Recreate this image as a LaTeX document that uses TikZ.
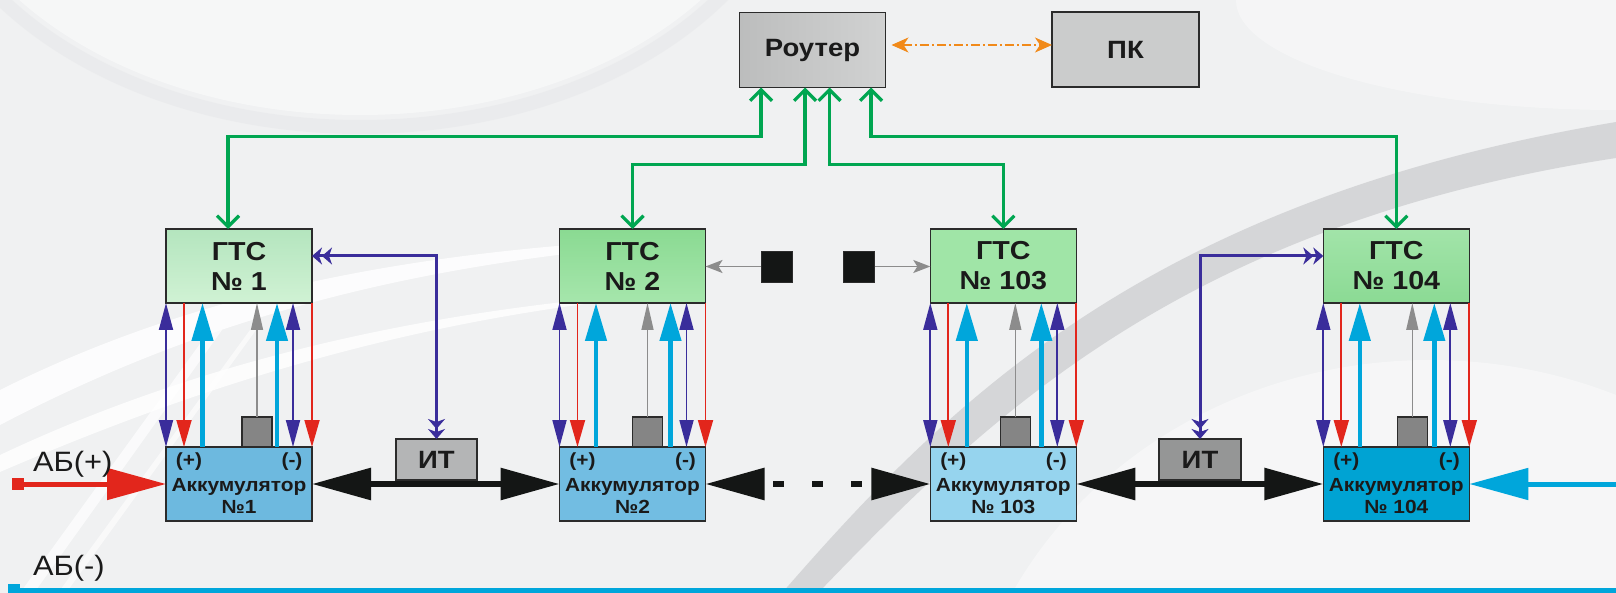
\documentclass[tikz,border=0pt]{standalone}
\usepackage{fontspec}
\setmainfont{Liberation Sans}
\newfontfamily\labelsans[FakeStretch=1.1]{Liberation Sans}
\usetikzlibrary{arrows.meta,calc}

\definecolor{bg}{HTML}{F0F1F2}
\definecolor{swoosh}{HTML}{D5D6D8}
\definecolor{arcgray}{HTML}{E6E7E9}
\definecolor{boxline}{HTML}{2B2B2B}
\definecolor{txt}{HTML}{1A1A1A}
\definecolor{routerL}{HTML}{BCBDBD}
\definecolor{routerR}{HTML}{D1D2D2}
\definecolor{pcfill}{HTML}{CBCCCC}
\definecolor{gA}{HTML}{B4E5BE}
\definecolor{gAl}{HTML}{D0F2D4}
\definecolor{gB}{HTML}{8ADA92}
\definecolor{gBl}{HTML}{A6E6AC}
\definecolor{gC}{HTML}{A0E5A7}
\definecolor{gD}{HTML}{8BDA94}
\definecolor{gDl}{HTML}{A2E4A9}
\definecolor{bA}{HTML}{6DB9DF}
\definecolor{bB}{HTML}{72BDE2}
\definecolor{bC}{HTML}{96D4EE}
\definecolor{bD}{HTML}{00A3D3}
\definecolor{itA}{HTML}{B4B5B6}
\definecolor{itB}{HTML}{959696}
\definecolor{plug}{HTML}{858585}
\definecolor{pur}{HTML}{3A2D9B}
\definecolor{wred}{HTML}{E2261C}
\definecolor{wcyan}{HTML}{00A6DB}
\definecolor{wgray}{HTML}{8C8C8C}
\definecolor{wgreen}{HTML}{00A651}
\definecolor{worange}{HTML}{F18A1A}
\definecolor{wblack}{HTML}{141615}

\tikzset{
  frame/.style={draw=boxline, line width=1.4pt, inner sep=0pt, outer sep=0pt},
  gtsbox/.style={frame, minimum width=146pt, minimum height=74pt, align=center,
    font=\labelsans\fontsize{26}{30}\selectfont\bfseries, text=txt},
  battbox/.style={frame, minimum width=146pt, minimum height=74pt},
  batttext/.style={align=center, font=\labelsans\fontsize{19}{22}\selectfont\bfseries, inner sep=0pt, text=txt},
  polarity/.style={font=\labelsans\fontsize{19}{22}\selectfont\bfseries, inner sep=0pt, text=txt},
  plugbox/.style={frame, fill=plug, minimum size=30pt},
  unitbox/.style={frame, font=\labelsans\fontsize{25}{30}\selectfont\bfseries, text=txt},
  termlabel/.style={anchor=base west, inner sep=0pt, font=\labelsans\fontsize{28}{32}\selectfont, text=txt},
  tap/.style={inner sep=0pt, outer sep=0pt, minimum size=12pt},
  sqmark/.style={fill=wblack, draw=boxline, line width=0.6pt, minimum size=31pt, inner sep=0pt, outer sep=0pt},
  datawire/.style={draw=pur, line width=1.8pt,
    arrows={Triangle[length=27pt,width=14pt]-Triangle[length=27pt,width=14pt]}},
  feedwire/.style={draw=wred, line width=1.8pt, arrows={-Triangle[length=27pt,width=15pt]}},
  sensewire/.style={draw=wcyan, line width=4.5pt, arrows={-Triangle[length=38pt,width=21pt]}},
  tempwire/.style={draw=wgray, line width=1.5pt, arrows={-Triangle[length=27pt,width=12pt]}},
  netlink/.style={draw=wgreen, line width=3.2pt,
    arrows={Straight Barb[length=11pt,width=22pt]-Straight Barb[length=11pt,width=22pt]}},
  itlink/.style={draw=pur, line width=3pt,
    arrows={Stealth[length=10pt,width=17pt,inset=3pt] Stealth[length=10pt,width=17pt,inset=3pt]-Stealth[length=10pt,width=17pt,inset=3pt] Stealth[length=10pt,width=17pt,inset=3pt]}},
  sidelink/.style={draw=wgray, line width=1.5pt, arrows={-Stealth[length=17pt,width=13pt,inset=4pt]}},
  lanlink/.style={draw=worange, line width=1.5pt, dash pattern=on 9pt off 3pt on 2pt off 3pt,
    arrows={Stealth[length=17pt,width=15pt,inset=5pt]-Stealth[length=17pt,width=15pt,inset=5pt]}},
  bus/.style={draw=wblack, line width=6pt,
    arrows={Triangle[length=59pt,width=31pt]-Triangle[length=59pt,width=31pt]}},
  feedin/.style={line width=5pt, arrows={-Triangle[length=59pt,width=31pt]}},
}

% one charging cell: GTS controller, battery, plug sensor and the wires between them
% #1 id, #2 x of centre, #3 GTS fill, #4 battery fill, #5 GTS number, #6 battery number, #7 plug offset
\newcommand\powercell[7]{%
  \node[gtsbox,#3] (g#1) at (#2,266) {ГТС\\#5};
  \node[battbox,#4] (b#1) at (#2,484) {};
  \node[batttext] at ([yshift=-12pt]b#1.center) {Аккумулятор\\#6};
  \node[polarity] at ([shift={(23,15)}]b#1.north west) {(+)};
  \node[polarity] at ([shift={(-20,15)}]b#1.north east) {(-)};
  \node[plugbox] (p#1) at ([shift={(#7,-15)}]b#1.north west) {};
  \draw[datawire] (g#1.south west) -- (b#1.north west);
  \draw[feedwire] ([xshift=18pt]g#1.south west) -- ([xshift=18pt]b#1.north west);
  \draw[sensewire] ([xshift=36.5pt]b#1.north west) -- ([xshift=36.5pt]g#1.south west);
  \draw[tempwire] (p#1.north) -- (p#1.north |- g#1.south);
  \draw[sensewire] ([xshift=111pt]b#1.north west) -- ([xshift=111pt]g#1.south west);
  \draw[datawire] ([xshift=127pt]g#1.south west) -- ([xshift=127pt]b#1.north west);
  \draw[feedwire] (g#1.south east) -- (b#1.north east);
}

\begin{document}
\begin{tikzpicture}[x=1pt,y=-1pt]
\useasboundingbox (0,0) rectangle (1616,593);

% background with soft decorative swooshes
\fill[bg] (0,0) rectangle (1616,593);
\fill[white, opacity=.45] (360,-180) ellipse [x radius=430, y radius=295];
\draw[arcgray, line width=14pt, opacity=.5] (360,-180) ellipse [x radius=442, y radius=307];
\fill[white, opacity=.4] (1430,790) ellipse [x radius=470, y radius=430];
\fill[white, opacity=.35] (1616,0) ellipse [x radius=380, y radius=110];
\fill[white, opacity=.85] (0,390) .. controls (180,300) and (380,255) .. (640,240)
  -- (640,246) .. controls (400,268) and (200,320) .. (0,425) -- cycle;
\fill[white, opacity=.8] (0,455) .. controls (180,370) and (380,320) .. (600,298)
  -- (600,302) .. controls (380,330) and (190,390) .. (0,472) -- cycle;
\fill[white, opacity=.7] (20,593) -- (210,330) -- (222,330) -- (34,593) -- cycle;
\fill[white, opacity=.6] (58,593) -- (250,330) -- (256,330) -- (66,593) -- cycle;
\fill[swoosh] (782,593) .. controls (950,400) and (1150,200) .. (1616,122)
  -- (1616,158) .. controls (1180,225) and (985,420) .. (818,593) -- cycle;

% network head-end
\node[unitbox, minimum width=146pt, minimum height=75pt, left color=routerL, right color=routerR] (rt) at (812.5,50) {Роутер};
\node[unitbox, minimum width=147pt, minimum height=75pt, fill=pcfill] (pc) at (1125.5,49.5) {ПК};
\draw[lanlink] ([xshift=6pt,yshift=5pt]rt.east) -- ([yshift=4.5pt]pc.west);

% charging cells
\powercell{1}{239}{top color=gA, bottom color=gAl}{fill=bA}{№ 1}{№1}{91}
\powercell{2}{632.5}{top color=gB, bottom color=gBl}{fill=bB}{№ 2}{№2}{88}
\powercell{103}{1003.3}{fill=gC}{fill=bC}{№ 103}{№ 103}{85}
\powercell{104}{1396.3}{top color=gDl, bottom color=gD}{fill=bD}{№ 104}{№ 104}{89}

% router links to every GTS
\draw[netlink] ([xshift=-51.5pt]rt.south) -- ++(0,49) -| ([xshift=-11pt]g1.north);
\draw[netlink] ([xshift=-7.5pt]rt.south) -- ++(0,77) -| (g2.north);
\draw[netlink] ([xshift=17pt]rt.south) -- ++(0,77) -| (g103.north);
\draw[netlink] ([xshift=58.5pt]rt.south) -- ++(0,49) -| (g104.north);

% GTS chain markers between cell 2 and cell 103
\node[sqmark] (s1) at (776.5,266.5) {};
\node[sqmark] (s2) at (859,266.5) {};
\draw[sidelink] (s1.west) -- (s1.west -| g2.east);
\draw[sidelink] (s2.east) -- (s2.east -| g103.west);

% current transducers
\node[unitbox, minimum width=81pt, minimum height=41pt, fill=itA] (it1) at (436.5,459.5) {ИТ};
\node[unitbox, minimum width=82pt, minimum height=41pt, fill=itB] (it2) at (1200,459.5) {ИТ};
\draw[itlink] ([yshift=10pt]g1.east) -| (it1.north);
\draw[itlink] (it2.north) |- ([yshift=10pt]g104.west);

% battery string
\draw[bus] (b1.east) -- (b2.west);
\draw[bus, dash pattern=on 11pt off 28pt, dash phase=29pt] (b2.east) -- (b103.west);
\draw[bus] (b103.east) -- (b104.west);

% string terminals
\node[tap, fill=wred] (tp) at (17.5,484) {};
\draw[feedin, draw=wred] (tp.east) -- (b1.west);
\coordinate (rin) at (1616,484);
\draw[feedin, draw=wcyan] (rin) -- (b104.east);
\node[tap, fill=wcyan] (tm) at (14,590) {};
\coordinate (mend) at (1616,590);
\draw[wcyan, line width=5pt] (tm.center) -- (mend);

\node[termlabel] (abp) at (33,471) {АБ(+)};
\node[termlabel] (abm) at (33,575) {АБ(-)};
\end{tikzpicture}
\end{document}
